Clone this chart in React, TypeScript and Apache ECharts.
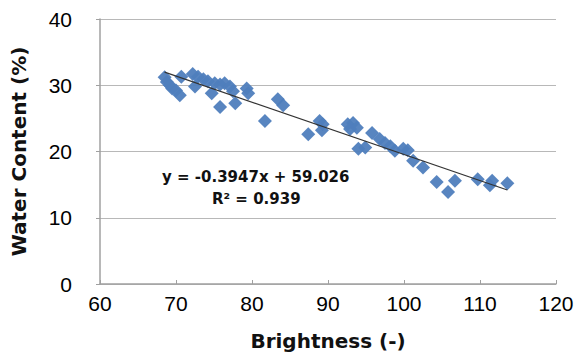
import React, { useEffect, useRef } from "react";
import * as echarts from "echarts";

const brightness = [
  68.5, 68.8, 69.2, 69.5, 70.0, 70.5, 70.7, 72.2, 72.9, 72.5, 73.6, 74.2, 74.7, 75.1, 75.8, 76.4,
  77.1, 77.5, 75.8, 77.8, 79.3, 79.5, 81.7, 83.4, 84.1, 87.4, 88.9, 89.3, 89.2, 92.6, 93.3, 93.8,
  92.9, 94.0, 94.9, 95.8, 96.8, 97.5, 98.2, 98.8, 99.9, 100.5, 101.2, 102.5, 104.3, 105.8, 106.7,
  109.7, 111.6, 111.3, 113.6,
];
const waterContent = [
  31.2, 30.5, 30.0, 29.5, 29.2, 28.5, 31.3, 31.7, 31.3, 29.8, 30.9, 30.6, 28.8, 30.3, 30.1, 30.3,
  29.8, 29.1, 26.7, 27.3, 29.5, 28.8, 24.6, 27.9, 27.0, 22.6, 24.6, 24.1, 23.2, 24.1, 24.3, 23.6,
  23.4, 20.4, 20.6, 22.8, 21.9, 21.3, 20.8, 20.1, 20.4, 20.2, 18.6, 17.6, 15.4, 13.9, 15.6, 15.8,
  15.6, 14.9, 15.2,
];
const slope = -0.3947;
const intercept = 59.026;
const r2 = 0.939;
const xTicks = [60, 120, 10];
const yTicks = [0, 40, 10];

export default function App() {
  const ref = useRef<HTMLDivElement>(null);
  useEffect(() => {
    if (!ref.current) return;
    const chart = echarts.init(ref.current, null, { renderer: "svg" });
    const pts = brightness.map((b, i) => [b, waterContent[i]]);
    const xMin = Math.min(...brightness);
    const xMax = Math.max(...brightness);
    const trend = [
      [xMin, slope * xMin + intercept],
      [xMax, slope * xMax + intercept],
    ];
    const font = "'Liberation Sans', Arial, sans-serif";
    const titleFont = "'DejaVu Sans', sans-serif";
    chart.setOption({
      animation: false,
      backgroundColor: "#ffffff",
      grid: { left: 100, right: 32, top: 19, bottom: 68, containLabel: false, outerBoundsMode: "none" },
      xAxis: {
        type: "value",
        min: xTicks[0],
        max: xTicks[1],
        interval: xTicks[2],
        name: "Brightness (-)",
        nameLocation: "middle",
        nameGap: 47,
        nameTextStyle: { fontFamily: titleFont, fontWeight: "bold", fontSize: 20, color: "#111" },
        axisLine: { lineStyle: { color: "#a0a0a0", width: 1.5 } },
        axisTick: { show: true, inside: true, length: 4, lineStyle: { color: "#a0a0a0" } },
        axisLabel: { fontFamily: font, fontSize: 21, color: "#000", margin: 9 },
        splitLine: { show: false },
      },
      yAxis: {
        type: "value",
        min: yTicks[0],
        max: yTicks[1],
        interval: yTicks[2],
        name: "Water Content (%)",
        nameLocation: "middle",
        nameGap: 71,
        nameTextStyle: { fontFamily: titleFont, fontWeight: "bold", fontSize: 20, color: "#111" },
        axisLine: { show: true, lineStyle: { color: "#a0a0a0", width: 1.5 } },
        axisTick: { show: true, length: 4, lineStyle: { color: "#a0a0a0" } },
        axisLabel: { fontFamily: font, fontSize: 21, color: "#000", margin: 28 },
        splitLine: { show: true, lineStyle: { color: "#b8b8b8", width: 1.2 } },
      },
      series: [
        {
          type: "scatter",
          data: pts,
          symbol: "diamond",
          symbolSize: 14,
          itemStyle: { color: "#4F7EBD", opacity: 0.95 },
          z: 2,
        },
        {
          type: "line",
          data: trend,
          symbol: "none",
          lineStyle: { color: "#333", width: 1.2 },
          z: 3,
        },
      ],
      graphic: [
        {
          type: "text",
          left: 162,
          top: 169,
          style: {
            text: `y = ${slope}x + ${intercept}`,
            fontFamily: titleFont,
            fontSize: 15,
            fontWeight: "bold",
            fill: "#111",
          },
        },
        {
          type: "text",
          left: 212,
          top: 191,
          style: {
            text: `R² = ${r2}`,
            fontFamily: titleFont,
            fontSize: 15,
            fontWeight: "bold",
            fill: "#111",
          },
        },
      ],
    });
    return () => chart.dispose();
  }, []);
  return <div ref={ref} style={{ width: 588, height: 352, position: "absolute", left: 0, top: 0 }} />;
}
